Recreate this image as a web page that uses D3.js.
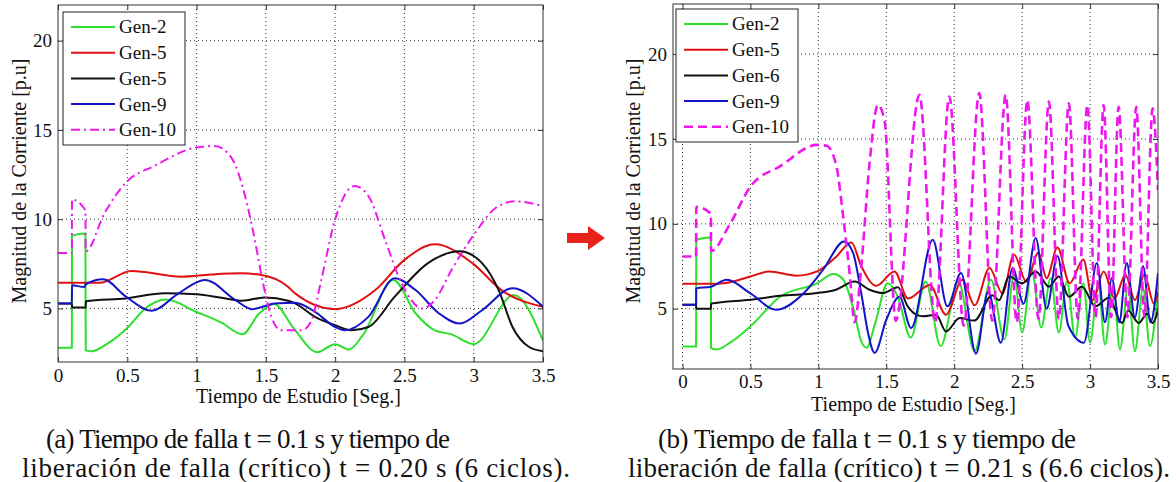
<!DOCTYPE html>
<html>
<head>
<meta charset="utf-8">
<script src="https://cdn.jsdelivr.net/npm/d3@7"></script>
<style>
  body { margin: 0; background: #fff; }
  svg { display: block; }
  svg text { font-family: "Liberation Serif", "Times New Roman", serif; }
</style>
</head>
<body>
<div id="chart"></div>
<script>
const width = 1176;
const height = 482;
const serif = "Liberation Serif";

const xTicks = [0, 0.5, 1, 1.5, 2, 2.5, 3, 3.5];
const yTicks = [5, 10, 15, 20];
const legendA = ["Gen-2", "Gen-5", "Gen-5", "Gen-9", "Gen-10"];
const legendB = ["Gen-2", "Gen-5", "Gen-6", "Gen-9", "Gen-10"];
const xLabel = "Tiempo de Estudio [Seg.]";
const yLabel = "Magnitud de la Corriente  [p.u]";
const captionA = ["(a) Tiempo de falla t = 0.1 s y tiempo de",
  "liberación de falla (crítico) t = 0.20 s (6 ciclos)."];
const captionB = ["(b) Tiempo de falla t = 0.1 s y tiempo de",
  "liberación de falla (crítico) t = 0.21 s (6.6 ciclos)."];

// (a) despeje en 0.20 s  -- [tiempo, corriente]
const gen2A = [[0,2.8],[0.1,2.8],[0.101,9.08],[0.198,9.2],[0.2,2.65],[0.24,2.6],[0.36,3.04],[0.5,3.9],
  [0.63,5.0],[0.78,5.5],[1.0,4.8],[1.18,4.2],[1.33,3.55],[1.45,4.7],[1.56,5.25],[1.7,3.9],[1.87,2.55],
  [2.0,3.0],[2.1,2.7],[2.2,3.5],[2.42,6.6],[2.58,4.73],[2.72,3.77],[2.84,3.55],[3.0,3.0],[3.29,5.75],[3.5,3.2]];
const gen5A = [[0,6.44],[0.3,6.44],[0.53,7.1],[0.89,6.78],[1.1,6.9],[1.325,6.97],[1.45,6.9],[1.66,6.22],
  [1.71,5.85],[2.0,4.96],[2.29,6.03],[2.5,7.72],[2.72,8.6],[2.99,7.54],[3.2,6.03],[3.5,5.09]];
const gen5bA = [[0,5.28],[0.1,5.28],[0.101,5.05],[0.2,5.05],[0.201,5.4],[0.49,5.56],[0.77,5.85],[1.0,5.8],
  [1.18,5.6],[1.33,5.43],[1.49,5.62],[1.66,5.43],[1.71,5.28],[1.855,4.53],[2.0,4.06],[2.12,3.78],[2.24,3.96],
  [2.43,5.66],[2.67,7.54],[2.9,8.2],[3.06,7.54],[3.18,6.03],[3.28,3.96],[3.4,2.84],[3.5,2.6]];
const gen9A = [[0,5.28],[0.1,5.28],[0.101,6.3],[0.19,6.2],[0.2,6.35],[0.325,6.63],[0.49,5.66],[0.675,4.87],
  [0.87,5.85],[1.06,6.6],[1.28,5.47],[1.4,4.96],[1.566,5.28],[1.71,5.32],[1.855,4.81],[2.0,3.96],[2.07,3.78],
  [2.24,4.53],[2.43,6.69],[2.58,6.03],[2.75,4.72],[2.9,4.15],[3.06,4.9],[3.28,6.13],[3.5,5.1]];
const gen10A = [[0,8.1],[0.1,8.1],[0.101,11.1],[0.198,10.5],[0.2,8.2],[0.337,10.36],[0.49,12.05],[0.7,13.0],
  [1.0,14.02],[1.13,14.1],[1.25,13.46],[1.35,11.3],[1.42,8.85],[1.48,6.4],[1.54,4.53],[1.61,3.78],[1.76,3.78],
  [1.83,4.34],[1.9,6.6],[2.0,9.98],[2.14,11.86],[2.24,11.3],[2.36,8.85],[2.48,6.4],[2.63,5.0],[2.72,5.47],
  [2.84,7.16],[3.01,9.23],[3.16,10.64],[3.3,11.0],[3.5,10.73]];

// (b) despeje en 0.21 s
const gen2B = [[0,2.78],[0.1,2.78],[0.101,9.06],[0.209,9.2],[0.21,2.7],[0.25,2.6],[0.35,3.0],[0.5,3.96],
  [0.72,5.72],[0.99,6.5],[1.11,7.05],[1.18,6.75],[1.255,5.1],[1.32,3.0],[1.355,2.7],[1.42,4.2],[1.51,6.5],
  [1.585,5.7],[1.68,3.3],[1.79,6.6],[1.9,2.8],[2.03,6.6],[2.15,2.5],[2.27,6.7],[2.37,3.2],[2.44,7.0],
  [2.5,3.6],[2.57,7.3],[2.64,3.9],[2.71,6.8],[2.77,3.6],[2.83,6.6],[2.89,3.3],[2.95,6.5],[3.0,3.0],
  [3.06,6.5],[3.11,2.9],[3.17,6.4],[3.22,2.6],[3.28,6.3],[3.33,2.5],[3.39,6.2],[3.44,2.8],[3.5,6.0]];
const gen5B = [[0,6.47],[0.21,6.47],[0.3,6.5],[0.5,6.9],[0.64,7.2],[0.84,6.95],[0.99,7.2],[1.133,8.08],
  [1.243,8.9],[1.316,7.5],[1.426,6.35],[1.56,7.2],[1.66,5.6],[1.82,6.4],[1.94,4.65],[2.06,6.7],[2.15,5.2],
  [2.26,7.4],[2.355,5.9],[2.44,8.2],[2.53,6.6],[2.62,8.3],[2.68,6.8],[2.76,8.6],[2.85,6.5],[2.95,7.9],
  [3.02,5.5],[3.1,7.2],[3.18,5.6],[3.26,7.0],[3.33,5.5],[3.4,7.0],[3.47,5.3],[3.5,6.0]];
const gen6B = [[0,5.24],[0.1,5.24],[0.101,5.0],[0.209,5.0],[0.21,5.3],[0.5,5.53],[0.72,5.76],[0.99,5.92],
  [1.13,6.12],[1.267,6.6],[1.377,6.12],[1.475,5.92],[1.585,6.27],[1.658,5.14],[1.72,4.65],[1.77,4.55],
  [1.867,4.65],[1.94,3.66],[2.04,4.45],[2.147,4.3],[2.28,5.8],[2.33,5.5],[2.404,6.9],[2.5,6.5],[2.6,7.2],
  [2.698,6.3],[2.77,6.9],[2.845,5.7],[2.94,6.3],[3.04,5.14],[3.138,5.65],[3.235,4.16],[3.28,4.9],
  [3.358,4.16],[3.419,4.7],[3.46,4.16],[3.5,4.9]];
const gen9B = [[0,5.24],[0.1,5.24],[0.101,6.2],[0.21,6.3],[0.326,6.7],[0.5,5.9],[0.69,4.94],[0.89,5.9],
  [1.035,7.3],[1.19,8.96],[1.255,8.3],[1.316,5.9],[1.365,3.6],[1.414,2.4],[1.5,4.35],[1.597,5.7],
  [1.683,3.86],[1.842,9.06],[1.95,5.14],[2.05,7.1],[2.16,2.35],[2.25,6.0],[2.343,3.0],[2.43,7.4],
  [2.51,5.3],[2.6,9.16],[2.68,5.0],[2.76,8.1],[2.84,4.0],[2.955,3.0],[3.05,7.7],[3.11,4.2],[3.16,6.8],
  [3.215,4.2],[3.27,7.7],[3.33,4.5],[3.39,7.5],[3.445,4.2],[3.5,7.1]];
const gen10B = [[0,8.08],[0.1,8.08],[0.101,11.0],[0.209,10.6],[0.21,8.4],[0.35,10.0],[0.5,12.2],[0.72,13.4],
  [0.99,14.65],[1.06,14.6],[1.133,13.4],[1.18,10.6],[1.23,7.1],[1.267,4.2],[1.316,7.5],[1.377,13.6],
  [1.438,17.0],[1.487,16.1],[1.57,4.3],[1.744,17.6],[1.86,4.2],[1.964,17.5],[2.07,4.0],[2.184,17.7],
  [2.28,4.3],[2.379,17.6],[2.46,4.2],[2.538,17.3],[2.62,4.4],[2.697,17.2],[2.77,4.4],[2.844,17.1],
  [2.91,4.4],[2.98,17.0],[3.04,4.5],[3.1,17.0],[3.155,4.5],[3.21,16.9],[3.275,4.5],[3.34,16.9],
  [3.4,4.5],[3.46,16.8],[3.5,12.0]];

const colors = ["#2ee02e", "#e01010", "#111111", "#1414c8", "#ee18ee"];

const svg = d3.select("#chart").append("svg")
  .attr("width", width)
  .attr("height", height)
  .attr("viewBox", [0, 0, width, height])
  .attr("font-family", serif);

function drawPanel(p) {
  const x = d3.scaleLinear().domain(p.xDomain).range([p.left, p.right]);
  const y = d3.scaleLinear().domain(p.yDomain).range([p.bottom, p.top]);
  const g = svg.append("g").attr("font-family", serif);

  // dotted grid
  g.append("g").selectAll("line")
    .data(xTicks.filter(t => x(t) > p.left + 1 && x(t) < p.right - 1))
    .join("line")
    .attr("x1", d => x(d)).attr("x2", d => x(d))
    .attr("y1", p.top).attr("y2", p.bottom)
    .attr("stroke", "#333").attr("stroke-dasharray", "1,3");
  g.append("g").selectAll("line")
    .data(yTicks)
    .join("line")
    .attr("x1", p.left).attr("x2", p.right)
    .attr("y1", d => y(d)).attr("y2", d => y(d))
    .attr("stroke", "#333").attr("stroke-dasharray", "1,3");

  const clipId = "clip-" + p.id;
  svg.append("clipPath").attr("id", clipId)
    .append("rect")
    .attr("x", p.left).attr("y", p.top)
    .attr("width", p.right - p.left).attr("height", p.bottom - p.top);

  const line = d3.line()
    .x(d => x(d[0]))
    .y(d => y(d[1]))
    .curve(d3.curveMonotoneX);

  g.append("g").attr("clip-path", `url(#${clipId})`)
    .selectAll("path")
    .data(p.series)
    .join("path")
    .attr("fill", "none")
    .attr("stroke", (d, i) => colors[i])
    .attr("stroke-width", (d, i) => i === 4 ? p.dashWidth : 2)
    .attr("stroke-dasharray", (d, i) => i === 4 ? p.dash : null)
    .attr("d", line);

  // axes, ticks inward on all four sides
  const fmt = d => d3.format("")(d);
  const axes = g.append("g");
  axes.append("g")
    .attr("transform", `translate(0,${p.bottom})`)
    .call(d3.axisBottom(x).tickValues(xTicks).tickSizeInner(-5).tickSizeOuter(0).tickPadding(p.xPad).tickFormat(fmt));
  axes.append("g")
    .attr("transform", `translate(${p.left},0)`)
    .call(d3.axisLeft(y).tickValues(yTicks).tickSizeInner(-5).tickSizeOuter(0).tickPadding(6));
  axes.append("g")
    .attr("transform", `translate(0,${p.top})`)
    .call(d3.axisTop(x).tickValues(xTicks).tickSizeInner(-5).tickSizeOuter(0).tickFormat(""));
  axes.append("g")
    .attr("transform", `translate(${p.right},0)`)
    .call(d3.axisRight(y).tickValues(yTicks).tickSizeInner(-5).tickSizeOuter(0).tickFormat(""));

  axes.selectAll("g").attr("font-family", serif).attr("font-size", 19);
  axes.selectAll(".domain").remove();
  axes.selectAll(".tick line").attr("stroke", "#333");
  axes.selectAll(".tick text")
    .attr("font-family", serif)
    .attr("font-size", 19)
    .attr("fill", "#111");

  g.append("rect")
    .attr("x", p.left).attr("y", p.top)
    .attr("width", p.right - p.left).attr("height", p.bottom - p.top)
    .attr("fill", "none").attr("stroke", "#333").attr("stroke-width", 1);

  // axis labels
  g.append("text")
    .attr("x", (p.left + p.right) / 2 - 2)
    .attr("y", p.xLabelY)
    .attr("text-anchor", "middle")
    .attr("font-family", serif)
    .attr("font-size", 20)
    .attr("fill", "#111")
    .text(xLabel);
  g.append("text")
    .attr("transform", `translate(${p.yLabelX},181) rotate(-90)`)
    .attr("text-anchor", "middle")
    .attr("font-family", serif)
    .attr("font-size", 20)
    .attr("fill", "#111")
    .text(yLabel);

  // legend
  const lg = g.append("g").attr("transform", `translate(${p.legend[0]},${p.legend[1]})`);
  lg.append("rect")
    .attr("width", 122).attr("height", 133)
    .attr("fill", "#fff").attr("stroke", "#222").attr("stroke-width", 1);
  p.legendNames.forEach((name, i) => {
    const yy = 15 + i * 25.7;
    lg.append("line")
      .attr("x1", 8).attr("x2", 52)
      .attr("y1", yy).attr("y2", yy)
      .attr("stroke", colors[i])
      .attr("stroke-width", i === 4 ? p.dashWidth : 2)
      .attr("stroke-dasharray", i === 4 ? p.dash : null);
    lg.append("text")
      .attr("x", 56).attr("y", yy)
      .attr("dy", "0.34em")
      .attr("font-family", serif)
      .attr("font-size", 19)
      .attr("fill", "#111")
      .text(name);
  });

  // caption, two lines
  p.caption.forEach((c, i) => {
    svg.append("text")
      .attr("x", p.captionX[i])
      .attr("y", 448 + i * 29)
      .attr("font-family", serif)
      .attr("font-size", 27)
      .attr("fill", "#111")
      .attr("textLength", p.captionLen[i])
      .attr("lengthAdjust", "spacing")
      .text(c);
  });
}

drawPanel({
  id: "a", left: 58, right: 543, top: 5, bottom: 362,
  xDomain: [0, 3.5], yDomain: [2, 22],
  series: [gen2A, gen5A, gen5bA, gen9A, gen10A],
  dash: "9,4,2,4", dashWidth: 2,
  legend: [63, 12], legendNames: legendA,
  xPad: 7, xLabelY: 403, yLabelX: 26,
  caption: captionA, captionX: [46, 22], captionLen: [404, 548]
});

drawPanel({
  id: "b", left: 673, right: 1158, top: 4, bottom: 369,
  xDomain: [-0.07, 3.5], yDomain: [1.45, 22.95],
  series: [gen2B, gen5B, gen6B, gen9B, gen10B],
  dash: "9,5", dashWidth: 2.6,
  legend: [676, 9], legendNames: legendB,
  xPad: 6, xLabelY: 411, yLabelX: 640,
  caption: captionB, captionX: [658, 628], captionLen: [418, 542]
});

// red arrow between the panels
svg.append("path")
  .attr("d", "M567,233 L588,233 L588,226 L605,238 L588,250 L588,243 L567,243 Z")
  .attr("fill", "#e8231c");
</script>
</body>
</html>
